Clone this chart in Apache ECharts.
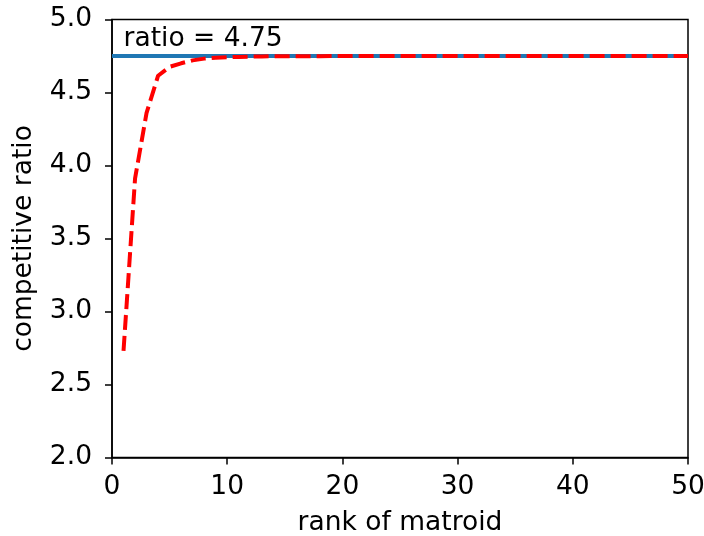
<!DOCTYPE html>
<html>
<head>
<meta charset="utf-8">
<script src="https://cdn.jsdelivr.net/npm/echarts@6/dist/echarts.min.js"></script>
<style>
  html, body { margin: 0; padding: 0; background: #fff; }
  #chart { width: 704px; height: 536px; }
</style>
</head>
<body>
<div id="chart"></div>
<script>
// rank of matroid 1..50
const ranks = [];
for (let i = 1; i <= 50; i++) ranks.push(i);

// competitive ratio
const ratios = [
  2.73, 3.91, 4.36, 4.615, 4.676, 4.70, 4.72, 4.732, 4.738, 4.742,
  4.744, 4.746, 4.747, 4.748, 4.748, 4.749, 4.749, 4.749, 4.75, 4.75,
  4.75, 4.75, 4.75, 4.75, 4.75, 4.75, 4.75, 4.75, 4.75, 4.75,
  4.75, 4.75, 4.75, 4.75, 4.75, 4.75, 4.75, 4.75, 4.75, 4.75,
  4.75, 4.75, 4.75, 4.75, 4.75, 4.75, 4.75, 4.75, 4.75, 4.75
];

// horizontal reference line
const boundX = [0, 50];
const boundValue = 4.75;
const boundLabel = 'ratio = 4.75';
const labelAt = [1, 4.8];

const font = 'DejaVu Sans';
const fs = 26.5;

const chartDom = document.getElementById('chart');
const chart = echarts.init(chartDom);

const option = {
  animation: false,
  backgroundColor: '#fff',
  grid: {
    left: 112,
    right: 16,
    top: 19.5,
    bottom: 78.5,
    outerBoundsMode: 'none',
    containLabel: false,
    show: true,
    borderColor: '#000',
    borderWidth: 1.5,
    backgroundColor: 'transparent'
  },
  xAxis: {
    type: 'value',
    min: 0,
    max: 50,
    interval: 10,
    name: 'rank of matroid',
    nameLocation: 'middle',
    nameGap: 52,
    nameTextStyle: { fontFamily: font, fontSize: fs, color: '#000' },
    axisLine: { show: true, lineStyle: { color: '#000', width: 1.5 } },
    axisTick: { show: true, length: 7, lineStyle: { color: '#000', width: 1.5 } },
    axisLabel: { fontFamily: font, fontSize: fs, color: '#000', margin: 16 },
    splitLine: { show: false }
  },
  yAxis: {
    type: 'value',
    min: 2,
    max: 5,
    interval: 0.5,
    name: 'competitive ratio',
    nameLocation: 'middle',
    nameGap: 74,
    nameTextStyle: { fontFamily: font, fontSize: fs, color: '#000' },
    axisLine: { show: true, lineStyle: { color: '#000', width: 1.5 } },
    axisTick: { show: true, length: 7, lineStyle: { color: '#000', width: 1.5 } },
    axisLabel: {
      fontFamily: font, fontSize: fs, color: '#000', margin: 20,
      formatter: v => v.toFixed(1)
    },
    splitLine: { show: false }
  },
  series: [
    {
      type: 'line',
      data: boundX.map(x => [x, boundValue]),
      symbol: 'none',
      lineStyle: { color: '#1f77b4', width: 4 },
      z: 2
    },
    {
      type: 'line',
      data: ranks.map((r, i) => [r, ratios[i]]),
      symbol: 'none',
      lineStyle: { color: '#ff0000', width: 4, type: [15, 6] },
      z: 3
    }
  ]
};

chart.setOption(option);

const p = chart.convertToPixel({ gridIndex: 0 }, labelAt);
chart.setOption({
  graphic: [{
    type: 'text',
    x: p[0],
    y: p[1] - 9.5,
    style: {
      text: boundLabel,
      fontFamily: font,
      fontSize: fs,
      fill: '#000',
      align: 'left',
      verticalAlign: 'middle'
    },
    z: 10
  }]
});
</script>
</body>
</html>
